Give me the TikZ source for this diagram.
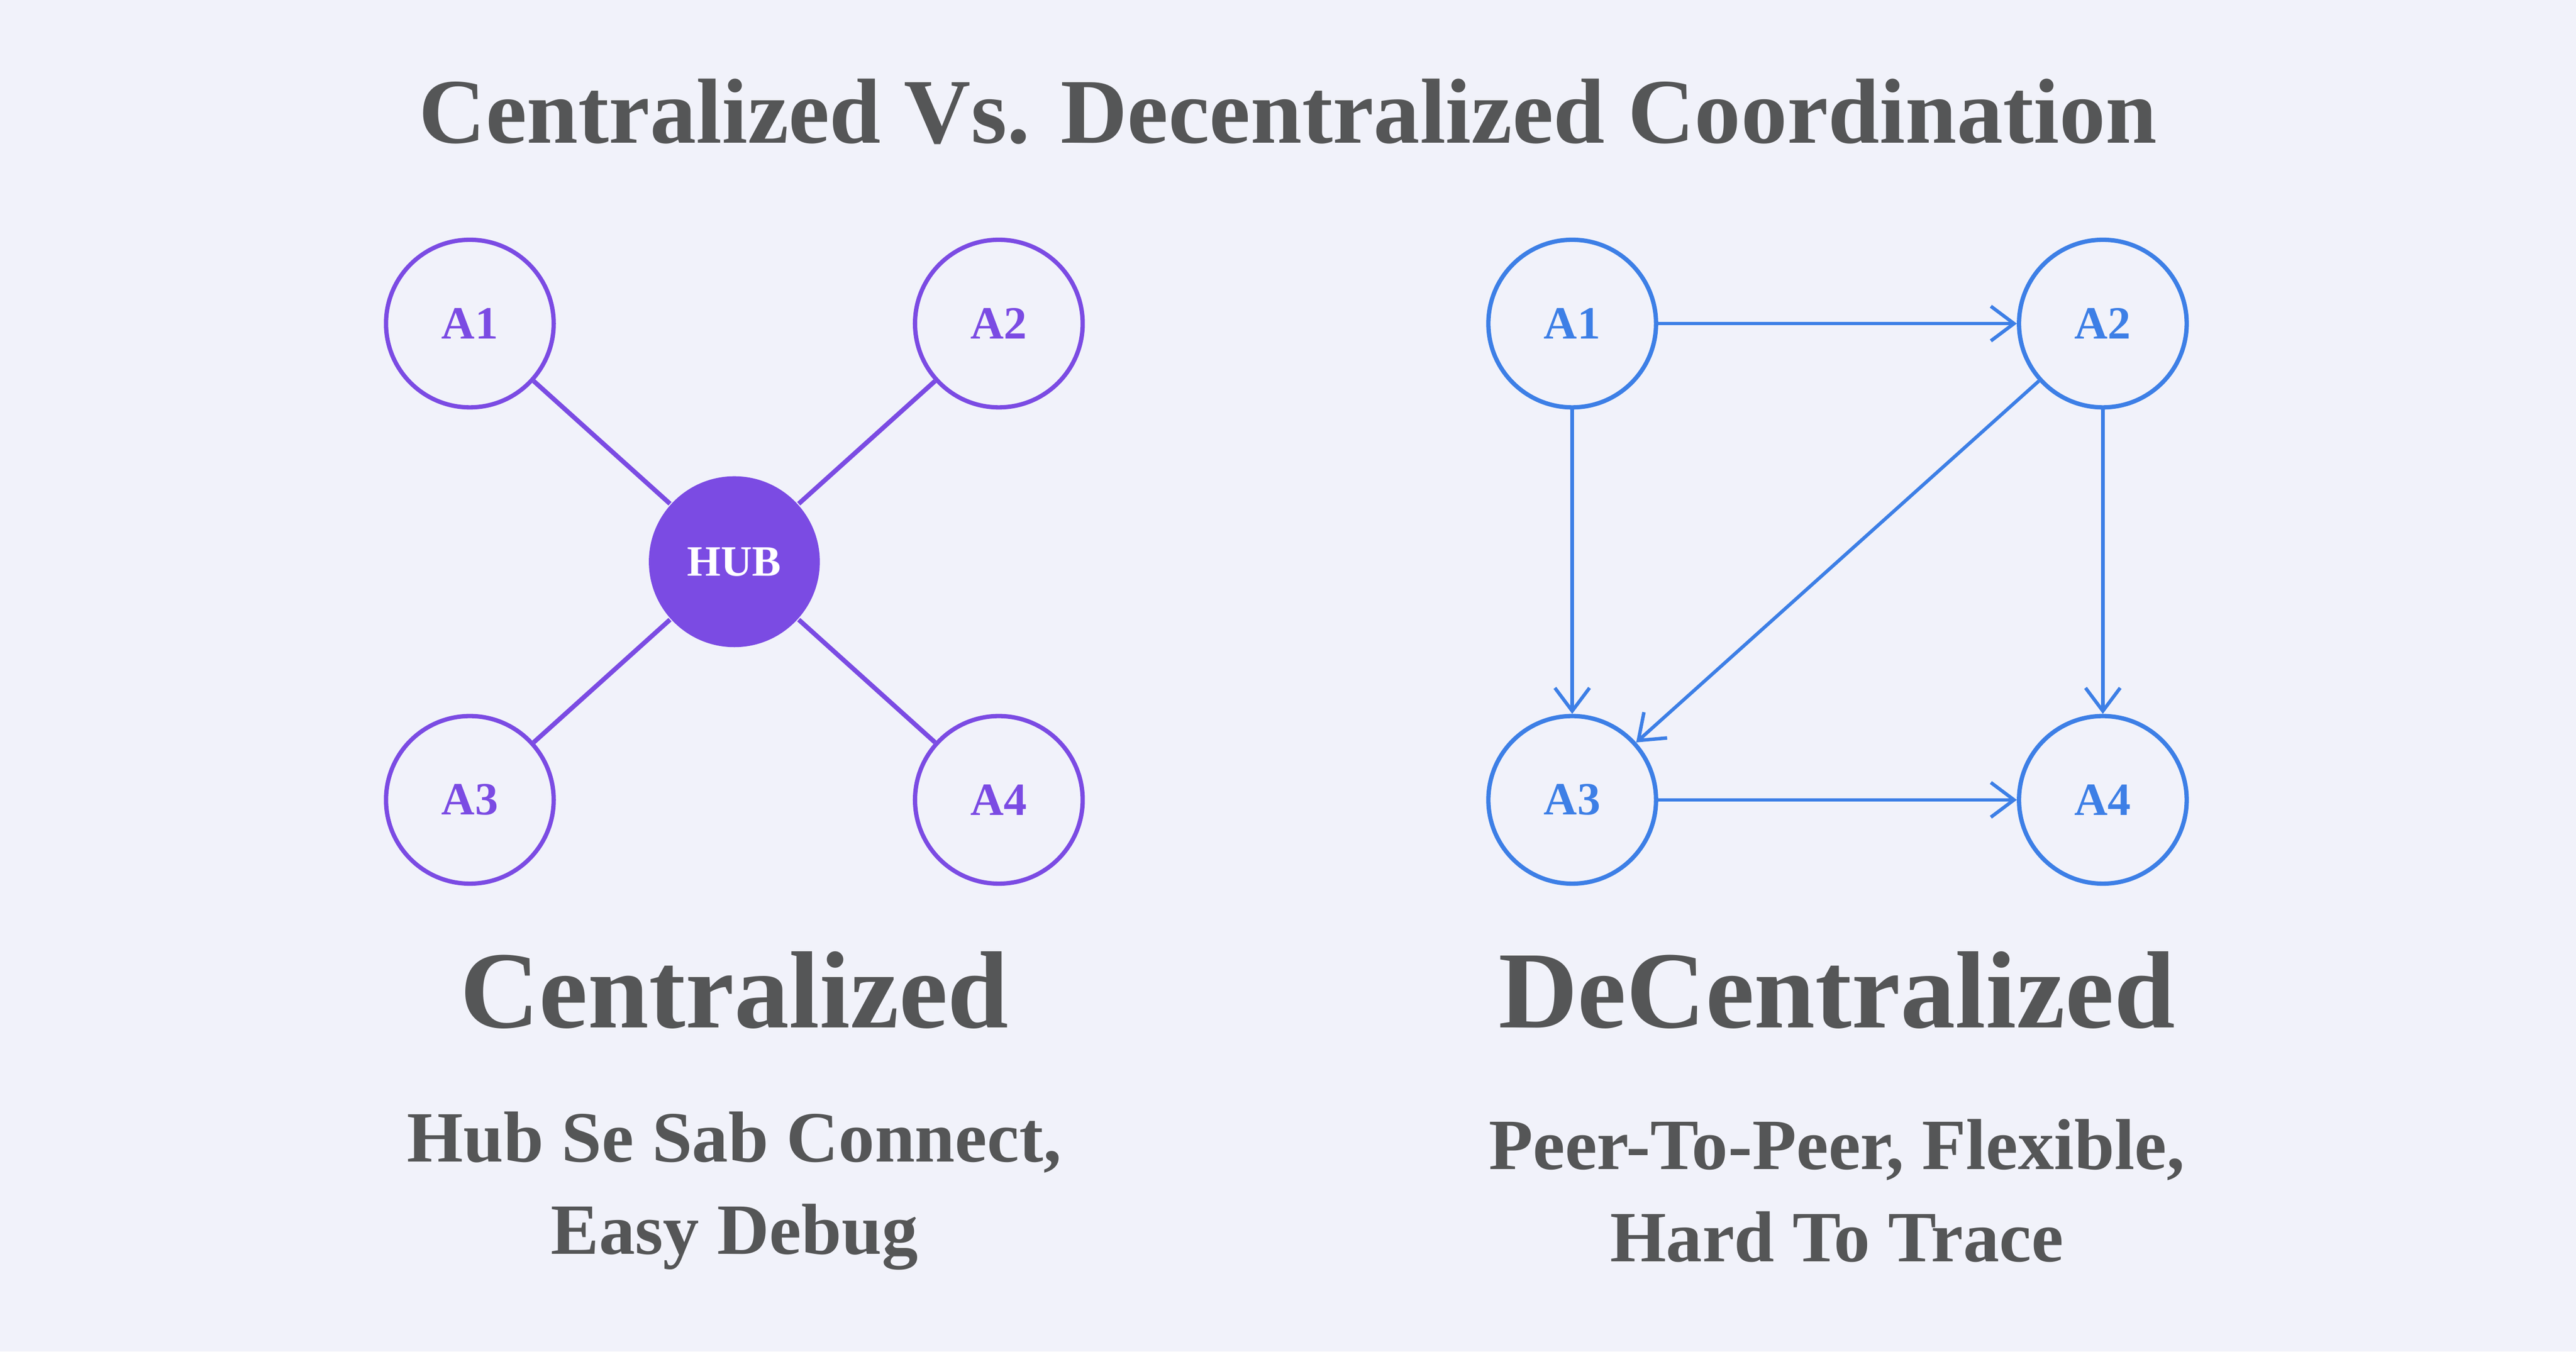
\documentclass[tikz,border=0pt]{standalone}
\usepackage{fontspec}
\setmainfont{Liberation Serif}
\usetikzlibrary{arrows.meta}
\definecolor{bgc}{HTML}{F1F2FA}
\definecolor{txt}{HTML}{555657}
\definecolor{hubc}{HTML}{7B4BE3}
\definecolor{peer}{HTML}{3D7FE6}
\begin{document}
\begin{tikzpicture}[
		x=0.01cm, y=-0.01cm,
		agent/.style={circle, draw=hubc, line width=0.75pt, fill=bgc, minimum size=1.02cm, inner sep=0pt, text=hubc, font=\fontsize{8}{9}\selectfont\bfseries},
		peerA/.style={agent, draw=peer, text=peer},
		hub/.style={circle, fill=hubc, minimum size=1.04cm, inner sep=0pt, text=white, font=\fontsize{7.5}{9}\selectfont\bfseries},
		link/.style={draw=hubc, line width=0.8pt},
		arrow/.style={draw=peer, line width=0.6pt, -{Straight Barb[length=4pt,width=6pt]}},
		heading/.style={text=txt, font=\fontsize{16}{19}\selectfont\bfseries},
		caption/.style={text=txt, font=\fontsize{12.5}{16}\selectfont\bfseries, align=center}
		]
		\fill[bgc] (0,0) rectangle (1568,823);
		
		% Title
		\node[heading] (title) at (784,68) {Centralized Vs. Decentralized Coordination};
		
		% -------- Centralized --------
		\node[hub] (hub) at (447,342) {HUB};
		\node[agent] (c1) at (286,197) {A1};
		\node[agent] (c2) at (608,197) {A2};
		\node[agent] (c3) at (286,487) {A3};
		\node[agent] (c4) at (608,487) {A4};
		\draw[link] (hub) -- (c1);
		\draw[link] (hub) -- (c2);
		\draw[link] (hub) -- (c3);
		\draw[link] (hub) -- (c4);
		
		% -------- Decentralized --------
		\node[peerA] (d1) at (957,197) {A1};
		\node[peerA] (d2) at (1280,197) {A2};
		\node[peerA] (d3) at (957,487) {A3};
		\node[peerA] (d4) at (1280,487) {A4};
		\draw[arrow] (d1) -- (d2);
		\draw[arrow] (d1) -- (d3);
		\draw[arrow] (d2) -- (d4);
		\draw[arrow] (d2) -- (d3);
		\draw[arrow] (d3) -- (d4);
		
		% Labels
		\node[heading, font=\fontsize{19}{22}\selectfont\bfseries] (lcen) at (447,603) {Centralized};
		\node[heading, font=\fontsize{19}{22}\selectfont\bfseries] (ldec) at (1118,603) {DeCentralized};
		\node[caption] (tcen) at (447,725) {Hub Se Sab Connect,\\Easy Debug};
		\node[caption] (tdec) at (1118,725) {Peer-To-Peer, Flexible,\\Hard To Trace};
	\end{tikzpicture}
\end{document}
